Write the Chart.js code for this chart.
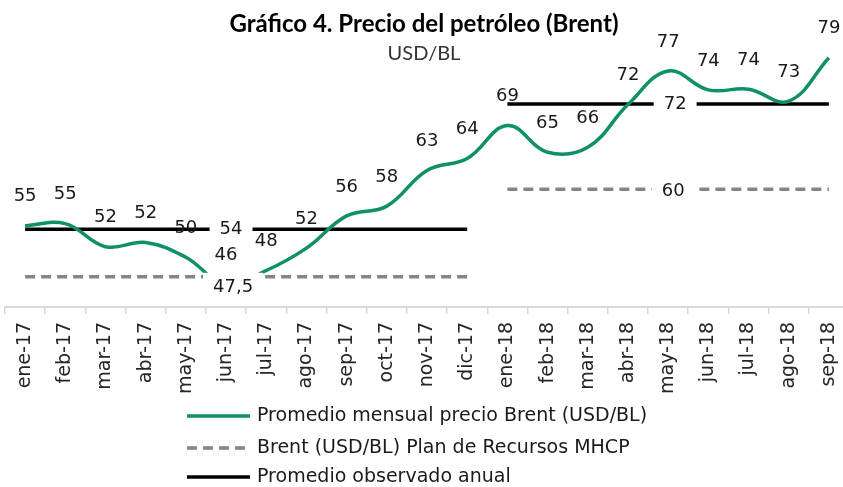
<!DOCTYPE html>
<html>
<head>
<meta charset="utf-8">
<script src="https://cdn.jsdelivr.net/npm/chart.js@4"></script>
<style>
  html, body { margin: 0; padding: 0; background: #fff; overflow: hidden; }
  #wrap { width: 843px; height: 487px; overflow: hidden; }
</style>
</head>
<body>
<div id="wrap"><canvas id="myChart" width="849" height="487"></canvas></div>
<script>
const months = ["ene-17", "feb-17", "mar-17", "abr-17", "may-17", "jun-17", "jul-17", "ago-17", "sep-17", "oct-17", "nov-17", "dic-17",
                "ene-18", "feb-18", "mar-18", "abr-18", "may-18", "jun-18", "jul-18", "ago-18", "sep-18"];
const brentMensual = [54.8, 55.1, 51.8, 52.4, 50.3, 46.4, 48.4, 51.6, 56.2, 57.6, 62.7, 64.4,
                      69.1, 65.3, 66.0, 72.1, 76.9, 74.2, 74.3, 72.6, 78.8];
const brentPlan = [47.5, 47.5, 47.5, 47.5, 47.5, 47.5, 47.5, 47.5, 47.5, 47.5, 47.5, 47.5,
                   60, 60, 60, 60, 60, 60, 60, 60, 60];
const promedioAnual = [54.3, 54.3, 54.3, 54.3, 54.3, 54.3, 54.3, 54.3, 54.3, 54.3, 54.3, 54.3,
                       72.2, 72.2, 72.2, 72.2, 72.2, 72.2, 72.2, 72.2, 72.2];
const seriesNames = ["Promedio mensual precio Brent (USD/BL)", "Brent (USD/BL) Plan de Recursos MHCP", "Promedio observado anual"];

const FONT = "'DejaVu Sans', sans-serif";
const green = "#0f9068";
const gray = "#858585";

// break the annual lines between dic-17 and ene-18
const yearBreak = ctx => ctx.p0.parsed.y !== ctx.p1.parsed.y ? "transparent" : undefined;

// which points carry a value label and how it sits
const labelCfg = [
  { idx: null, dx: [0], dy: [-29], box: false, fmt: v => String(Math.round(v)) },
  { idx: [5, 16], dx: [7, 5], dy: [11, 2], box: true, fmt: v => String(v).replace(".", ",") },
  { idx: [5, 16], dx: [5, 7], dy: [0, 0], box: true, fmt: v => String(Math.round(v)) }
];

const valueLabels = {
  id: "valueLabels",
  afterDatasetsDraw(chart) {
    const ctx = chart.ctx;
    ctx.save();
    ctx.font = "18px " + FONT;
    ctx.textAlign = "center";
    ctx.textBaseline = "middle";
    chart.data.datasets.forEach((ds, di) => {
      const cfg = labelCfg[di];
      const meta = chart.getDatasetMeta(di);
      const list = cfg.idx || ds.data.map((_, i) => i);
      list.forEach((i, k) => {
        const pt = meta.data[i];
        const dx = cfg.dx[k] !== undefined ? cfg.dx[k] : cfg.dx[0];
        const dy = cfg.dy[k] !== undefined ? cfg.dy[k] : cfg.dy[0];
        const x = pt.x + dx, y = pt.y + dy;
        const txt = cfg.fmt(ds.data[i]);
        if (cfg.box) {
          const w = ctx.measureText(txt).width;
          ctx.fillStyle = "#fff";
          ctx.fillRect(x - w / 2 - 10, y - 15, w + 20, 30);
        }
        ctx.fillStyle = "#1a1a1a";
        ctx.fillText(txt, x, y);
      });
    });
    ctx.restore();
  }
};

const bottomLegend = {
  id: "bottomLegend",
  afterDraw(chart) {
    const ctx = chart.ctx;
    const rows = [71, 39, 10];
    ctx.save();
    ctx.font = "19px " + FONT;
    ctx.textBaseline = "middle";
    chart.data.datasets.forEach((ds, di) => {
      const y = chart.height - rows[di];
      ctx.strokeStyle = ds.borderColor;
      ctx.lineWidth = ds.borderWidth;
      ctx.setLineDash(ds.borderDash || []);
      ctx.beginPath();
      ctx.moveTo(187, y);
      ctx.lineTo(250, y);
      ctx.stroke();
      ctx.setLineDash([]);
      ctx.fillStyle = "#1a1a1a";
      ctx.fillText(ds.label, 257, y);
    });
    ctx.restore();
  }
};

new Chart("myChart", {
  type: "line",
  data: {
    labels: months,
    datasets: [
      {
        label: seriesNames[0],
        data: brentMensual,
        borderColor: green,
        borderWidth: 3.5,
        tension: 0.4,
        pointRadius: 0,
        clip: false
      },
      {
        label: seriesNames[1],
        data: brentPlan,
        borderColor: gray,
        borderWidth: 3.5,
        borderDash: [10, 6],
        pointRadius: 0,
        segment: { borderColor: yearBreak }
      },
      {
        label: seriesNames[2],
        data: promedioAnual,
        borderColor: "#000",
        borderWidth: 3.5,
        pointRadius: 0,
        segment: { borderColor: yearBreak }
      }
    ]
  },
  options: {
    responsive: false,
    animation: false,
    layout: { padding: { left: -1, right: 0, top: 0, bottom: 85 } },
    plugins: {
      legend: { display: false },
      tooltip: { enabled: false },
      title: {
        display: true,
        text: "Gráfico 4. Precio del petróleo (Brent)",
        color: "#000",
        font: { family: "Lato", size: 24, weight: "bold" },
        padding: { top: 10, bottom: 0 }
      },
      subtitle: {
        display: true,
        text: "USD/BL",
        color: "#333",
        font: { family: "Lato", size: 20 },
        padding: { top: 3, bottom: 1 }
      }
    },
    scales: {
      x: {
        offset: true,
        grid: { offset: true, drawOnChartArea: false, tickLength: 7, color: "#d9d9d9", lineWidth: 1.5 },
        border: { color: "#d9d9d9", width: 2 },
        ticks: {
          autoSkip: false,
          minRotation: 90,
          maxRotation: 90,
          padding: 8,
          color: "#262626",
          font: { family: "DejaVu Sans", size: 19 }
        },
        afterFit(scale) {
          scale.paddingLeft = 5;
          scale.paddingRight = 0;
        }
      },
      y: { display: false, min: 43.2, max: 77.5 }
    }
  },
  plugins: [valueLabels, bottomLegend]
});
</script>
</body>
</html>
